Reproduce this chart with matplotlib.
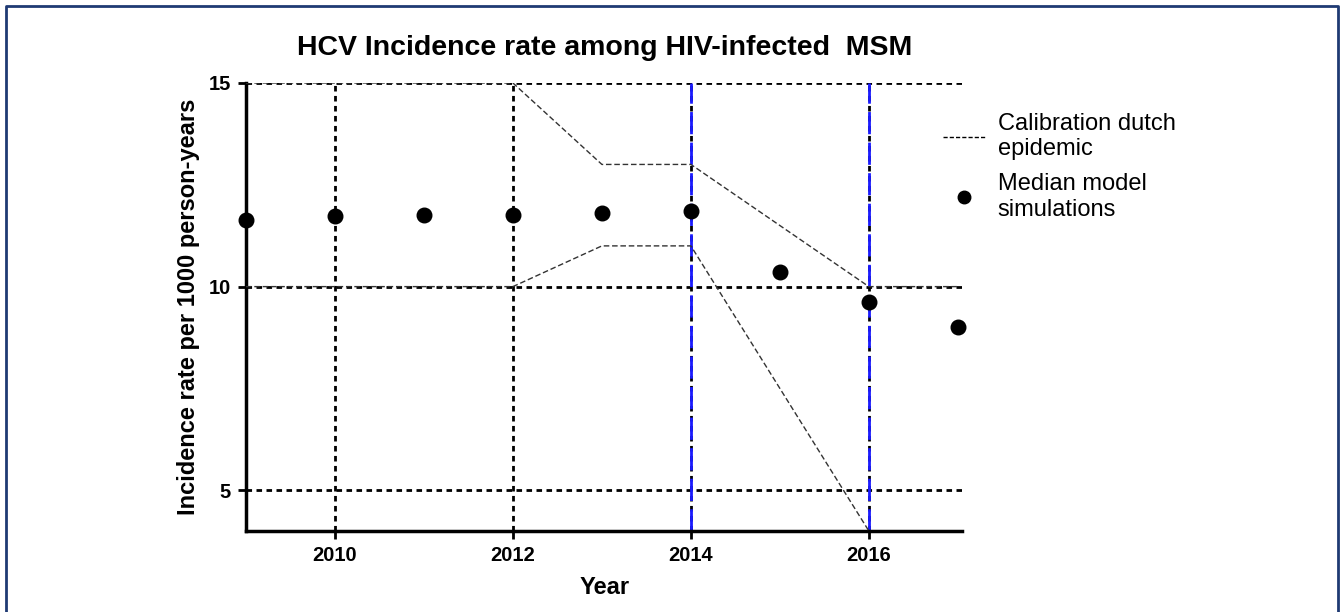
import matplotlib
matplotlib.use("Agg")
import matplotlib.pyplot as plt
from matplotlib.lines import Line2D

plt.rcParams['font.family'] = ['Liberation Sans', 'DejaVu Sans']

# median model simulations
years = [2009, 2010, 2011, 2012, 2013, 2014, 2015, 2016, 2017]
median = [11.64, 11.73, 11.76, 11.76, 11.81, 11.86, 10.37, 9.63, 9.02]

# calibration band of the dutch epidemic
cal_years_hi = [2009, 2012, 2013, 2014, 2016, 2017]
cal_hi = [15, 15, 13, 13, 10, 10]
cal_years_lo = [2009, 2012, 2013, 2014, 2016]
cal_lo = [10, 10, 11, 11, 4]

grid_years = [2010, 2012]
blue_years = [2014, 2016]
yticks = [5, 10, 15]
xticks = [2010, 2012, 2014, 2016]

fig = plt.figure(figsize=(13.44, 6.12), dpi=100)
ax = fig.add_axes([0.183, 0.1324, 0.533, 0.732])

# grid lines
for y in yticks:
    ax.axhline(y, color='black', lw=2, ls=(0, (2, 1.6)), zorder=1)
for x in grid_years:
    ax.axvline(x, color='black', lw=2, ls=(0, (2, 1.6)), zorder=1)
for x in blue_years:
    ax.axvline(x, color='black', lw=2, ls=(0, (2, 1.6)), zorder=1)
    ax.axvline(x, color='#1a1aff', lw=2, ls=(0, (8, 3)), zorder=2)

ax.plot(cal_years_hi, cal_hi, color='#333333', lw=1, ls=(0, (4, 2)), zorder=3)
ax.plot(cal_years_lo, cal_lo, color='#333333', lw=1, ls=(0, (4, 2)), zorder=3)
ax.scatter(years, median, s=110, color='black', zorder=4, clip_on=False)

ax.set_xlim(2009, 2017.05)
ax.set_ylim(4, 15)
ax.set_xticks(xticks)
ax.set_yticks(yticks)
ax.tick_params(width=2, length=6, labelsize=14.5, pad=5)
for lab in ax.get_xticklabels() + ax.get_yticklabels():
    lab.set_fontweight('bold')
ax.spines['top'].set_visible(False)
ax.spines['right'].set_visible(False)
ax.spines['left'].set_linewidth(2.5)
ax.spines['bottom'].set_linewidth(2.5)

ax.set_xlabel('Year', fontsize=17, fontweight='bold', labelpad=8)
ax.set_ylabel('Incidence rate per 1000 person-years', fontsize=17, fontweight='bold', labelpad=6)
ax.set_title('HCV Incidence rate among HIV-infected  MSM', fontsize=20.5, fontweight='bold', pad=20)

handles = [Line2D([], [], color='black', lw=1, ls=(0, (3, 1.5))),
           Line2D([], [], marker='o', color='black', ls='none', markersize=9)]
fig.legend(handles, ['Calibration dutch\nepidemic', 'Median model\nsimulations'],
           loc='upper left', bbox_to_anchor=(0.686, 0.85), frameon=False,
           handlelength=1.8, handletextpad=0.5, labelspacing=0.55,
           prop={'family': 'Liberation Sans', 'size': 17})

# outer frame
fig.add_artist(Line2D([0.0045, 0.0045, 0.9955, 0.9955], [0, 0.99, 0.99, 0],
                      transform=fig.transFigure, color='#1f3a73', lw=2))

fig.savefig('out.png', dpi=100)
